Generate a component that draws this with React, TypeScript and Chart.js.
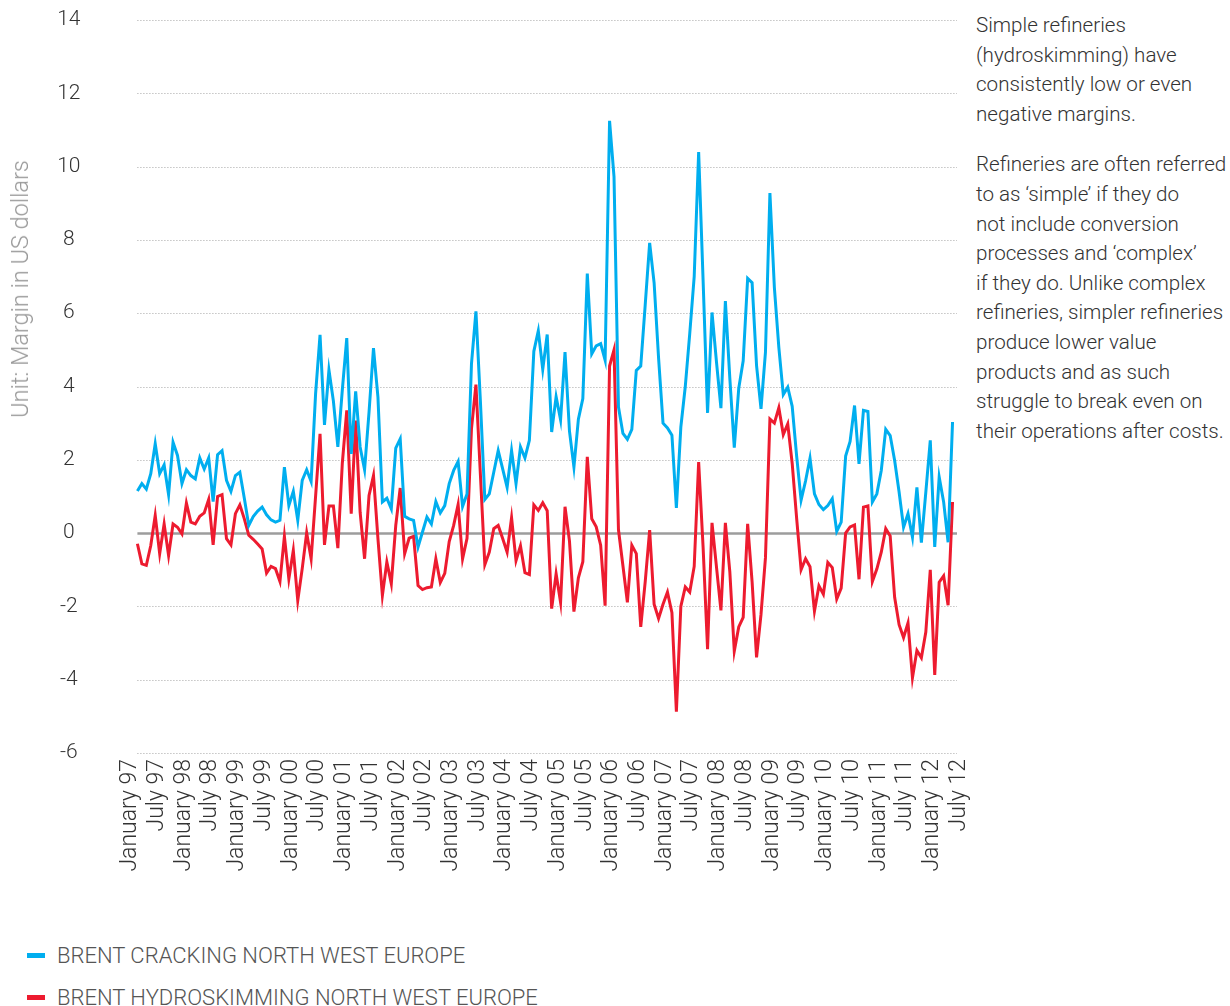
import React, { useEffect, useRef } from 'react';
import { Chart, registerables } from 'chart.js';

Chart.register(...registerables);

// Tick labels shown every six months on the category axis
const tickLabels = [
  'January 97', 'July 97', 'January 98', 'July 98', 'January 99', 'July 99',
  'January 00', 'July 00', 'January 01', 'July 01', 'January 02', 'July 02',
  'January 03', 'July 03', 'January 04', 'July 04', 'January 05', 'July 05',
  'January 06', 'July 06', 'January 07', 'July 07', 'January 08', 'July 08',
  'January 09', 'July 09', 'January 10', 'July 10', 'January 11', 'July 11',
  'January 12', 'July 12',
];

// index (in months from January 97) of the first data value
const firstDataMonth = 2;

// Brent cracking margin, north west Europe (US dollars), monthly
const crackingMargins = [
  1.15, 1.35, 1.2, 1.62, 2.44, 1.62, 1.86, 1.05, 2.48, 2.12,
  1.35, 1.73, 1.57, 1.48, 2.05, 1.75, 2.05, 0.86, 2.14, 2.25,
  1.44, 1.14, 1.57, 1.66, 0.95, 0.21, 0.45, 0.6, 0.71, 0.5,
  0.36, 0.3, 0.35, 1.8, 0.75, 1.14, 0.35, 1.44, 1.73, 1.41,
  3.8, 5.41, 2.95, 4.45, 3.6, 2.35, 3.9, 5.32, 2.16, 3.87,
  2.35, 1.73, 3.3, 5.05, 3.71, 0.85, 0.95, 0.66, 2.32, 2.57,
  0.46, 0.39, 0.35, -0.38, 0.03, 0.44, 0.25, 0.86, 0.55, 0.75,
  1.35, 1.71, 1.95, 0.73, 1.07, 4.62, 6.05, 3.6, 0.92, 1.07,
  1.66, 2.25, 1.75, 1.25, 2.25, 1.35, 2.35, 2.05, 2.53, 4.96,
  5.52, 4.47, 5.42, 2.76, 3.72, 3.09, 4.94, 2.78, 1.8, 3.11,
  3.67, 7.08, 4.89, 5.11, 5.17, 4.72, 11.25, 9.72, 3.44, 2.72,
  2.56, 2.83, 4.44, 4.56, 6.22, 7.92, 6.83, 4.78, 3.0, 2.87,
  2.67, 0.69, 2.89, 4.0, 5.44, 7.0, 10.4, 6.89, 3.28, 6.02,
  4.67, 3.41, 6.33, 4.22, 2.33, 3.95, 4.7, 6.95, 6.83, 4.57,
  3.39, 4.94, 9.28, 6.7, 5.07, 3.78, 3.98, 3.46, 2.1, 0.9,
  1.42, 2.04, 1.07, 0.78, 0.64, 0.75, 0.94, 0.05, 0.3, 2.1,
  2.5, 3.48, 1.89, 3.35, 3.32, 0.85, 1.07, 1.71, 2.83, 2.66,
  1.98, 1.12, 0.16, 0.53, -0.11, 1.25, -0.26, 1.12, 2.53, -0.38,
  1.53, 0.85, -0.25, 3.03,
];

// Brent hydroskimming margin, north west Europe (US dollars), monthly
const hydroskimmingMargins = [
  -0.29, -0.84, -0.88, -0.34, 0.48, -0.56, 0.25, -0.61, 0.25, 0.16,
  -0.02, 0.82, 0.3, 0.25, 0.46, 0.55, 0.92, -0.32, 1.0, 1.05,
  -0.15, -0.32, 0.53, 0.77, 0.39, -0.06, -0.17, -0.3, -0.43, -1.09,
  -0.91, -0.97, -1.32, -0.09, -1.25, -0.47, -1.84, -0.97, 0.01, -0.7,
  1.0, 2.71, -0.32, 0.74, 0.74, -0.41, 1.9, 3.35, 0.53, 3.07,
  0.57, -0.7, 1.03, 1.57, -0.15, -1.7, -0.79, -1.38, 0.21, 1.23,
  -0.56, -0.14, -0.09, -1.43, -1.54, -1.49, -1.47, -0.7, -1.35, -1.1,
  -0.23, 0.21, 0.78, -0.7, -0.14, 2.85, 4.05, 1.6, -0.86, -0.52,
  0.12, 0.21, -0.15, -0.52, 0.42, -0.75, -0.35, -1.08, -1.13, 0.77,
  0.62, 0.83, 0.61, -2.06, -1.11, -1.89, 0.72, -0.22, -2.14, -1.22,
  -0.78, 2.08, 0.39, 0.17, -0.33, -1.98, 4.56, 5.0, 0.09, -0.89,
  -1.89, -0.33, -0.56, -2.56, -1.33, 0.08, -1.94, -2.33, -1.94, -1.61,
  -2.17, -4.87, -2.0, -1.47, -1.61, -0.91, 1.94, -0.39, -3.17, 0.28,
  -0.92, -2.11, 0.28, -1.06, -3.22, -2.56, -2.3, 0.25, -1.33, -3.39,
  -2.22, -0.67, 3.11, 3.0, 3.42, 2.69, 2.98, 1.9, 0.4, -1.0,
  -0.7, -0.92, -2.13, -1.44, -1.67, -0.8, -0.94, -1.8, -1.5, 0.0,
  0.17, 0.22, -1.26, 0.71, 0.74, -1.32, -0.98, -0.52, 0.12, -0.08,
  -1.75, -2.5, -2.85, -2.45, -3.95, -3.2, -3.4, -2.7, -1.0, -3.87,
  -1.34, -1.17, -1.97, 0.85,
];

const seriesNames = ['BRENT CRACKING NORTH WEST EUROPE', 'BRENT HYDROSKIMMING NORTH WEST EUROPE'];
const yMin = -6;
const yMax = 14;
const yStep = 2;

const noteParagraphs = [
  ['Simple refineries', '(hydroskimming) have', 'consistently low or even', 'negative margins.'],
  [
    'Refineries are often referred',
    'to as ‘simple’ if they do',
    'not include conversion',
    'processes and ‘complex’',
    'if they do. Unlike complex',
    'refineries, simpler refineries',
    'produce lower value',
    'products and as such',
    'struggle to break even on',
    'their operations after costs.',
  ],
];

const BLUE = '#00aeef';
const RED = '#ed1b2f';
const FONT = "Roboto, 'Liberation Sans', Arial, sans-serif";

const monthCount = (tickLabels.length - 1) * 6 + 1;
const categories = Array.from({ length: monthCount }, (_, k) =>
  `${1997 + Math.floor(k / 12)}-${String((k % 12) + 1).padStart(2, '0')}`
);

const alignSeries = (values: number[]) =>
  categories.map((_, k) => {
    const j = k - firstDataMonth;
    return j >= 0 && j < values.length ? values[j] : null;
  });

const gridPlugin = {
  id: 'dottedGrid',
  beforeDatasetsDraw(chart: any) {
    const { ctx, scales } = chart;
    const x = scales.x;
    const y = scales.y;
    const x0 = x.getPixelForValue(firstDataMonth);
    const x1 = x.right;
    y.ticks.forEach((t: any) => {
      const py = Math.round(y.getPixelForValue(t.value)) + 0.5;
      ctx.save();
      ctx.beginPath();
      if (t.value === 0) {
        ctx.strokeStyle = '#9d9d9d';
        ctx.lineWidth = 2.5;
        ctx.setLineDash([]);
      } else {
        ctx.strokeStyle = '#a6a6a6';
        ctx.lineWidth = 1;
        ctx.setLineDash([1, 2]);
      }
      ctx.moveTo(x0, py);
      ctx.lineTo(x1, py);
      ctx.stroke();
      ctx.restore();
    });
  },
};

function MarginChart() {
  const ref = useRef<HTMLCanvasElement | null>(null);
  useEffect(() => {
    if (!ref.current) return;
    const chart = new Chart(ref.current, {
      type: 'line',
      data: {
        labels: categories,
        datasets: [
          {
            label: seriesNames[0],
            data: alignSeries(crackingMargins),
            borderColor: BLUE,
            backgroundColor: BLUE,
            borderWidth: 3,
            pointRadius: 0,
            tension: 0,
            fill: false,
          },
          {
            label: seriesNames[1],
            data: alignSeries(hydroskimmingMargins),
            borderColor: RED,
            backgroundColor: RED,
            borderWidth: 3,
            pointRadius: 0,
            tension: 0,
            fill: false,
          },
        ],
      },
      options: {
        responsive: false,
        animation: false,
        devicePixelRatio: 1,
        layout: { padding: { left: 8.5, right: 18, top: 20, bottom: 0 } },
        plugins: { legend: { display: false }, tooltip: { enabled: false } },
        scales: {
          x: {
            type: 'category',
            offset: false,
            grid: { display: false, drawTicks: false },
            border: { display: false },
            ticks: {
              autoSkip: false,
              maxRotation: 90,
              minRotation: 90,
              padding: 6,
              labelOffset: 2,
              color: '#333333',
              font: { family: FONT, size: 23, weight: '300' as any },
              callback: (v: any) => (Number(v) % 6 === 0 ? tickLabels[Number(v) / 6] : null),
            },
            afterFit: (s: any) => {
              s.height = 147;
              s.paddingLeft = 0;
              s.paddingRight = 0;
            },
          },
          y: {
            min: yMin,
            max: yMax,
            grid: { display: false, drawTicks: false },
            border: { display: false },
            ticks: {
              stepSize: yStep,
              padding: 48,
              crossAlign: 'center',
              color: '#333333',
              font: { family: FONT, size: 21, weight: '300' as any },
            },
            afterFit: (s: any) => {
              s.width = 120;
              s.paddingTop = 0;
              s.paddingBottom = 0;
            },
          },
        },
      },
      plugins: [gridPlugin],
    } as any);
    return () => chart.destroy();
  }, []);
  return (
    <canvas
      ref={ref}
      width={975}
      height={900}
      style={{ position: 'absolute', left: 0, top: 0, width: 975, height: 900 }}
    />
  );
}

export default function App() {
  return (
    <div
      style={{
        position: 'absolute',
        left: 0,
        top: 0,
        width: 1230,
        height: 1006,
        overflow: 'hidden',
        background: '#ffffff',
        fontFamily: FONT,
        fontWeight: 300,
      }}
    >
      <MarginChart />
      <div
        style={{
          position: 'absolute',
          left: 20,
          top: 289,
          transform: 'translate(-50%, -50%) rotate(-90deg)',
          whiteSpace: 'nowrap',
          fontSize: 23.5,
          color: '#9a9a9a',
        }}
      >
        Unit: Margin in US dollars
      </div>
      <div
        style={{
          position: 'absolute',
          left: 976,
          top: 11,
          fontSize: 20.6,
          lineHeight: '29.6px',
          color: '#333333',
          whiteSpace: 'nowrap',
        }}
      >
        {noteParagraphs.map((lines, p) => (
          <div key={p} style={{ marginTop: p === 0 ? 0 : 21 }}>
            {lines.map((line) => (
              <div key={line}>{line}</div>
            ))}
          </div>
        ))}
      </div>
      {seriesNames.map((name, i) => (
        <div
          key={name}
          style={{
            position: 'absolute',
            left: 27,
            top: 955 + i * 42 - 13,
            height: 26,
            display: 'flex',
            alignItems: 'center',
            whiteSpace: 'nowrap',
            fontSize: 22,
            color: '#555555',
          }}
        >
          <span
            style={{
              display: 'inline-block',
              width: 18,
              height: 5,
              background: i === 0 ? BLUE : RED,
              marginRight: 12,
            }}
          />
          {name}
        </div>
      ))}
    </div>
  );
}
